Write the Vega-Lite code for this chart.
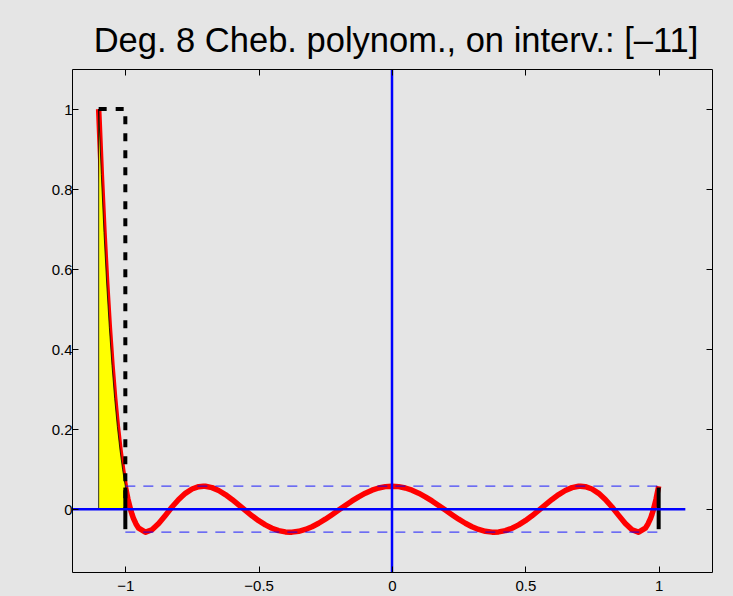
{
  "$schema": "https://vega.github.io/schema/vega-lite/v6.json",
  "width": 640,
  "height": 503,
  "autosize": {"type": "none"},
  "padding": {"left": 72, "top": 69, "right": 21, "bottom": 24},
  "background": "#e5e5e5",
  "title": {
    "text": "Deg. 8 Cheb. polynom., on interv.: [–11]",
    "font": "Liberation Sans",
    "fontSize": 34.5,
    "fontWeight": "normal",
    "color": "black",
    "anchor": "middle",
    "baseline": "alphabetic",
    "offset": -19,
    "dx": 4
  },
  "config": {
    "view": {"stroke": null},
    "axis": {
      "domainColor": "black",
      "tickColor": "black",
      "labelColor": "black",
      "labelFont": "Liberation Sans",
      "labelFontSize": 15,
      "grid": false,
      "domainWidth": 1,
      "tickWidth": 1,
      "zindex": 1
    }
  },
  "datasets": {
    "curve": [
      {"x": -1.1, "y": 1.0},
      {"x": -1.09, "y": 0.83609},
      {"x": -1.08, "y": 0.69171},
      {"x": -1.07, "y": 0.56517},
      {"x": -1.06, "y": 0.45488},
      {"x": -1.05, "y": 0.35933},
      {"x": -1.04, "y": 0.27716},
      {"x": -1.03, "y": 0.20705},
      {"x": -1.02, "y": 0.14781},
      {"x": -1.01, "y": 0.0983},
      {"x": -1.005, "y": 0.07687},
      {"x": -1.0, "y": 0.05749},
      {"x": -0.99, "y": 0.02444},
      {"x": -0.98, "y": -0.00183},
      {"x": -0.975, "y": -0.01264},
      {"x": -0.97, "y": -0.02214},
      {"x": -0.96, "y": -0.03702},
      {"x": -0.95, "y": -0.04741},
      {"x": -0.925, "y": -0.05747},
      {"x": -0.92388, "y": -0.05749},
      {"x": -0.9, "y": -0.05134},
      {"x": -0.875, "y": -0.03568},
      {"x": -0.85, "y": -0.01555},
      {"x": -0.825, "y": 0.00529},
      {"x": -0.8, "y": 0.02426},
      {"x": -0.775, "y": 0.03961},
      {"x": -0.75, "y": 0.05041},
      {"x": -0.725, "y": 0.05628},
      {"x": -0.70711, "y": 0.05749},
      {"x": -0.7, "y": 0.0573},
      {"x": -0.675, "y": 0.05389},
      {"x": -0.65, "y": 0.0467},
      {"x": -0.625, "y": 0.03653},
      {"x": -0.6, "y": 0.02426},
      {"x": -0.575, "y": 0.01077},
      {"x": -0.55, "y": -0.00307},
      {"x": -0.525, "y": -0.01648},
      {"x": -0.5, "y": -0.02874},
      {"x": -0.475, "y": -0.0393},
      {"x": -0.45, "y": -0.04769},
      {"x": -0.425, "y": -0.05359},
      {"x": -0.4, "y": -0.05684},
      {"x": -0.38268, "y": -0.05749},
      {"x": -0.375, "y": -0.05736},
      {"x": -0.35, "y": -0.05523},
      {"x": -0.325, "y": -0.05063},
      {"x": -0.3, "y": -0.04382},
      {"x": -0.275, "y": -0.03515},
      {"x": -0.25, "y": -0.02504},
      {"x": -0.225, "y": -0.01393},
      {"x": -0.2, "y": -0.0023},
      {"x": -0.175, "y": 0.00936},
      {"x": -0.15, "y": 0.02059},
      {"x": -0.125, "y": 0.03093},
      {"x": -0.1, "y": 0.04},
      {"x": -0.075, "y": 0.04743},
      {"x": -0.05, "y": 0.05294},
      {"x": -0.025, "y": 0.05634},
      {"x": 0.0, "y": 0.05749},
      {"x": 0.025, "y": 0.05634},
      {"x": 0.05, "y": 0.05294},
      {"x": 0.075, "y": 0.04743},
      {"x": 0.1, "y": 0.04},
      {"x": 0.125, "y": 0.03093},
      {"x": 0.15, "y": 0.02059},
      {"x": 0.175, "y": 0.00936},
      {"x": 0.2, "y": -0.0023},
      {"x": 0.225, "y": -0.01393},
      {"x": 0.25, "y": -0.02504},
      {"x": 0.275, "y": -0.03515},
      {"x": 0.3, "y": -0.04382},
      {"x": 0.325, "y": -0.05063},
      {"x": 0.35, "y": -0.05523},
      {"x": 0.375, "y": -0.05736},
      {"x": 0.38268, "y": -0.05749},
      {"x": 0.4, "y": -0.05684},
      {"x": 0.425, "y": -0.05359},
      {"x": 0.45, "y": -0.04769},
      {"x": 0.475, "y": -0.0393},
      {"x": 0.5, "y": -0.02874},
      {"x": 0.525, "y": -0.01648},
      {"x": 0.55, "y": -0.00307},
      {"x": 0.575, "y": 0.01077},
      {"x": 0.6, "y": 0.02426},
      {"x": 0.625, "y": 0.03653},
      {"x": 0.65, "y": 0.0467},
      {"x": 0.675, "y": 0.05389},
      {"x": 0.7, "y": 0.0573},
      {"x": 0.70711, "y": 0.05749},
      {"x": 0.725, "y": 0.05628},
      {"x": 0.75, "y": 0.05041},
      {"x": 0.775, "y": 0.03961},
      {"x": 0.8, "y": 0.02426},
      {"x": 0.825, "y": 0.00529},
      {"x": 0.85, "y": -0.01555},
      {"x": 0.875, "y": -0.03568},
      {"x": 0.9, "y": -0.05134},
      {"x": 0.92388, "y": -0.05749},
      {"x": 0.925, "y": -0.05747},
      {"x": 0.95, "y": -0.04741},
      {"x": 0.96, "y": -0.03702},
      {"x": 0.97, "y": -0.02214},
      {"x": 0.975, "y": -0.01264},
      {"x": 0.98, "y": -0.00183},
      {"x": 0.99, "y": 0.02444},
      {"x": 1.0, "y": 0.05749}
    ],
    "target": [
      {"i": 0, "x": -1.1, "y": 1},
      {"i": 1, "x": -1.0, "y": 1},
      {"i": 2, "x": -1.0, "y": 0}
    ],
    "ends": [{"x": -1.0}, {"x": 1.0}],
    "eps": [{"y": 0.05749}, {"y": -0.05749}],
    "one": [{}]
  },
  "layer": [
    {
      "data": {"name": "curve"},
      "mark": {"type": "line", "color": "#ff0000", "strokeWidth": 5.5, "strokeJoin": "round", "clip": false},
      "encoding": {
        "x": {"field": "x", "type": "quantitative", "title": null, "scale": {"domain": [-1.2, 1.2], "nice": false, "zero": false},
          "axis": {"orient": "bottom", "values": [-1, -0.5, 0, 0.5, 1], "format": "~g", "tickSize": -6, "labelPadding": 12, "labelFont": "Liberation Sans", "labelFontSize": 15, "labelColor": "black", "zindex": 1}},
        "y": {"field": "y", "type": "quantitative", "title": null, "scale": {"domain": [-0.157, 1.1], "nice": false, "zero": false},
          "axis": {"orient": "left", "values": [0, 0.2, 0.4, 0.6, 0.8, 1], "format": "~g", "tickSize": -6, "labelPadding": 6, "labelFont": "Liberation Sans", "labelFontSize": 15, "labelColor": "black", "zindex": 1}}
      }
    },
    {
      "data": {"name": "curve"},
      "transform": [{"filter": "datum.x <= -1"}],
      "mark": {"type": "area", "fill": "#ffff00", "stroke": "black", "strokeWidth": 0.8, "clip": false},
      "encoding": {
        "x": {"field": "x", "type": "quantitative", "scale": {"domain": [-1.2, 1.2], "nice": false, "zero": false}, "axis": null},
        "y": {"field": "y", "type": "quantitative", "scale": {"domain": [-0.157, 1.1], "nice": false, "zero": false}, "axis": null},
        "y2": {"datum": 0}
      }
    },
    {
      "data": {"name": "target"},
      "mark": {"type": "line", "color": "black", "strokeWidth": 4, "strokeDash": [8, 9], "clip": false},
      "encoding": {
        "x": {"field": "x", "type": "quantitative", "scale": {"domain": [-1.2, 1.2], "nice": false, "zero": false}, "axis": null},
        "y": {"field": "y", "type": "quantitative", "scale": {"domain": [-0.157, 1.1], "nice": false, "zero": false}, "axis": null},
        "order": {"field": "i", "type": "quantitative"}
      }
    },
    {
      "data": {"name": "ends"},
      "mark": {"type": "rule", "color": "black", "strokeWidth": 4},
      "encoding": {
        "x": {"field": "x", "type": "quantitative", "scale": {"domain": [-1.2, 1.2], "nice": false, "zero": false}, "axis": null},
        "y": {"datum": -0.05, "type": "quantitative", "scale": {"domain": [-0.157, 1.1], "nice": false, "zero": false}, "axis": null},
        "y2": {"datum": 0.054}
      }
    },
    {
      "data": {"name": "eps"},
      "mark": {"type": "rule", "color": "#0000ff", "strokeWidth": 1.3, "opacity": 0.7, "strokeDash": [10, 8]},
      "encoding": {
        "y": {"field": "y", "type": "quantitative", "scale": {"domain": [-0.157, 1.1], "nice": false, "zero": false}, "axis": null},
        "x": {"datum": -1, "type": "quantitative", "scale": {"domain": [-1.2, 1.2], "nice": false, "zero": false}, "axis": null},
        "x2": {"datum": 1}
      }
    },
    {
      "data": {"name": "one"},
      "mark": {"type": "rule", "color": "#0000ff", "strokeWidth": 2.5},
      "encoding": {
        "y": {"datum": 0, "type": "quantitative", "title": null, "scale": {"domain": [-0.157, 1.1], "nice": false, "zero": false},
          "axis": {"orient": "right", "values": [0, 0.2, 0.4, 0.6, 0.8, 1], "labels": false, "tickSize": -6, "zindex": 1}},
        "x": {"datum": -1.2, "type": "quantitative", "scale": {"domain": [-1.2, 1.2], "nice": false, "zero": false}, "axis": null},
        "x2": {"datum": 1.1}
      }
    },
    {
      "data": {"name": "one"},
      "mark": {"type": "rule", "color": "#0000ff", "strokeWidth": 2.5},
      "encoding": {
        "x": {"datum": 0, "type": "quantitative", "title": null, "scale": {"domain": [-1.2, 1.2], "nice": false, "zero": false},
          "axis": {"orient": "top", "values": [-1, -0.5, 0, 0.5, 1], "labels": false, "tickSize": -6, "zindex": 1}}
      }
    }
  ],
  "resolve": {"axis": {"x": "independent", "y": "independent"}}
}
